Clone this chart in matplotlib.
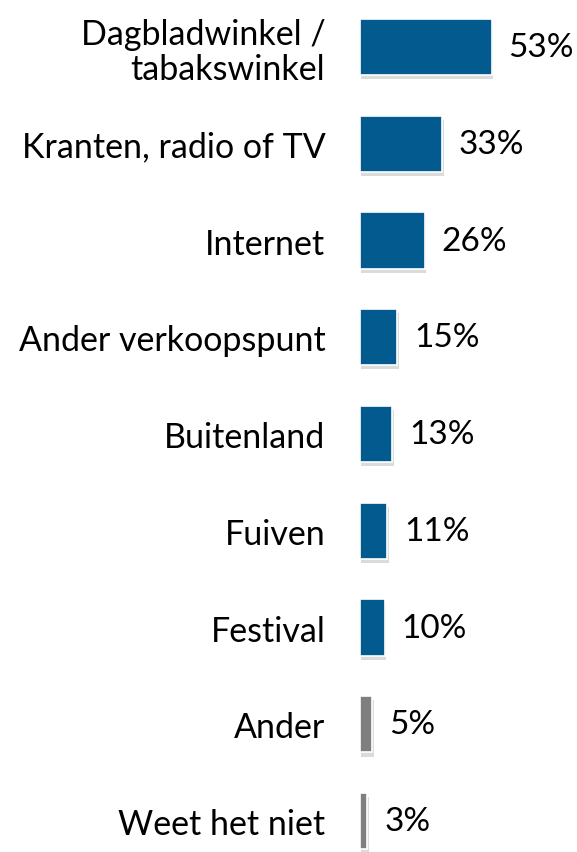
import matplotlib
matplotlib.use("Agg")
import matplotlib.pyplot as plt
import matplotlib.patheffects as pe

categories = ["Dagbladwinkel /\ntabakswinkel", "Kranten, radio of TV", "Internet",
              "Ander verkoopspunt", "Buitenland", "Fuiven", "Festival", "Ander", "Weet het niet"]
values = [53, 33, 26, 15, 13, 11, 10, 5, 3]
colors = ["#035A8F"] * 7 + ["#7F7F7F"] * 2

plt.rcParams['font.family'] = ['Lato', 'DejaVu Sans']
fig = plt.figure(figsize=(5.77, 8.53), dpi=100)
ax = fig.add_axes([360 / 577, 0, 217 / 577, 1])
pos = list(range(len(values)))
bars = ax.barh(pos, values, height=0.58, color=colors, edgecolor="white", linewidth=1.2)
for b in bars:
    b.set_path_effects([pe.SimplePatchShadow(offset=(1, -3), shadow_rgbFace="#b0b0b0", alpha=0.45), pe.Normal()])
ax.set_xlim(0, 217 / 2.49)
ax.set_ylim(8.32, -0.496)
ax.set_yticks(pos)
ax.set_yticklabels(categories, fontsize=24.5, ha="right", linespacing=1.1)
ax.tick_params(axis="y", length=0, pad=25)
ax.set_xticks([])
for s in ax.spines.values():
    s.set_visible(False)
ax.bar_label(bars, labels=[f"{v}%" for v in values], padding=12, fontsize=24)
fig.savefig("out.png", dpi=100)
